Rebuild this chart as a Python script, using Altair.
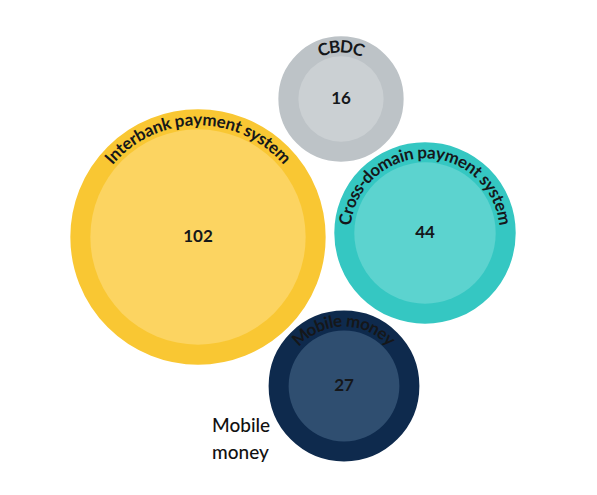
import math
import altair as alt
import pandas as pd

# ---- data ----
categories = ["Interbank payment system", "CBDC", "Cross-domain payment system", "Mobile money"]
values = [102, 16, 44, 27]
# bubble layout (centre of each bubble, in layout units)
center_x = [190, 333, 417, 336]
center_y = [229, 91, 225, 378]
outer_colors = ["#F9C733", "#BDC3C7", "#35C7C2", "#0E2A4D"]
inner_colors = ["#FCD461", "#CBD0D3", "#5CD3CF", "#2F4E70"]
note_text = "Mobile\nmoney"
note_x = [204]
note_y = [409]

W, H = 581, 479
K = 10.66          # px of radius per sqrt(unit)
RING = 20          # ring width in px
FS = 17            # label font size

df = pd.DataFrame({"category": categories, "value": values, "x": center_x, "y": center_y})

# approximate Lato Bold advance widths (em)
cw = {"a": .51, "b": .56, "c": .46, "d": .56, "e": .52, "f": .33, "g": .51, "h": .56,
      "i": .25, "k": .52, "l": .25, "m": .84, "n": .56, "o": .56, "p": .56, "r": .38,
      "s": .42, "t": .36, "y": .51, " ": .22, "-": .33, "C": .66, "B": .62, "D": .72,
      "M": .86, "I": .28}

rows = []
for cat, v, x, y in zip(categories, values, center_x, center_y):
    r_text = K * math.sqrt(v) + 9
    widths = [cw.get(ch, .55) * FS * 1.03 for ch in cat]
    total = sum(widths)
    s = -total / 2
    for ch, w in zip(cat, widths):
        mid = s + w / 2
        th = mid / r_text
        rows.append({"ch": ch, "x": x, "y": y, "r": r_text, "theta": th,
                     "angle": math.degrees(th) % 360, "category": cat})
        s += w
chars = pd.DataFrame(rows)

xs = alt.Scale(domain=[0, W])
ys = alt.Scale(domain=[H, 0])
X = alt.X("x:Q", scale=xs, axis=None)
Y = alt.Y("y:Q", scale=ys, axis=None)
# Vega circle symbol: diameter = sqrt(size)
size = alt.Size("value:Q", scale=alt.Scale(domain=[0, 102], range=[0, 4 * K * K * 102]), legend=None)

base = alt.Chart(df)
outer = base.mark_circle(opacity=1, strokeWidth=2 * RING, strokeOpacity=1).encode(
    x=X, y=Y, size=size,
    fill=alt.Fill("category:N", scale=alt.Scale(domain=categories, range=outer_colors), legend=None),
    stroke=alt.Stroke("category:N", scale=alt.Scale(domain=categories, range=outer_colors), legend=None),
)
inner = base.mark_circle(opacity=1, strokeWidth=0).encode(
    x=X, y=Y, size=size,
    color=alt.Color("category:N", scale=alt.Scale(domain=categories, range=inner_colors), legend=None),
)
numbers = base.mark_text(font="Lato", fontSize=FS, fontWeight="bold", color="#15171a",
                         align="center", baseline="middle").encode(
    x=X, y=Y, text=alt.Text("value:Q"))

arc_text = alt.Chart(chars).mark_text(font="Lato", fontSize=FS, fontWeight="bold", color="#15171a",
                                      align="center", baseline="middle").encode(
    x=X, y=Y,
    theta=alt.Theta("theta:Q", scale=None),
    radius=alt.Radius("r:Q", scale=None),
    angle=alt.Angle("angle:Q", scale=None),
    text="ch:N",
)

note = alt.Chart(pd.DataFrame({"x": note_x, "y": note_y, "t": [note_text]})).mark_text(
    font="Lato", fontSize=19, fontWeight=500, color="#111111", align="left", baseline="top",
    lineBreak="\n", lineHeight=27).encode(x=X, y=Y, text="t:N")

chart = alt.layer(outer, inner, arc_text, numbers, note).properties(
    width=W, height=H, padding=0, autosize=alt.AutoSizeParams(type="none"),
    background="#ffffff",
).configure_view(stroke=None)

chart.save("out.html", embed_options={"renderer": "svg", "actions": False})
